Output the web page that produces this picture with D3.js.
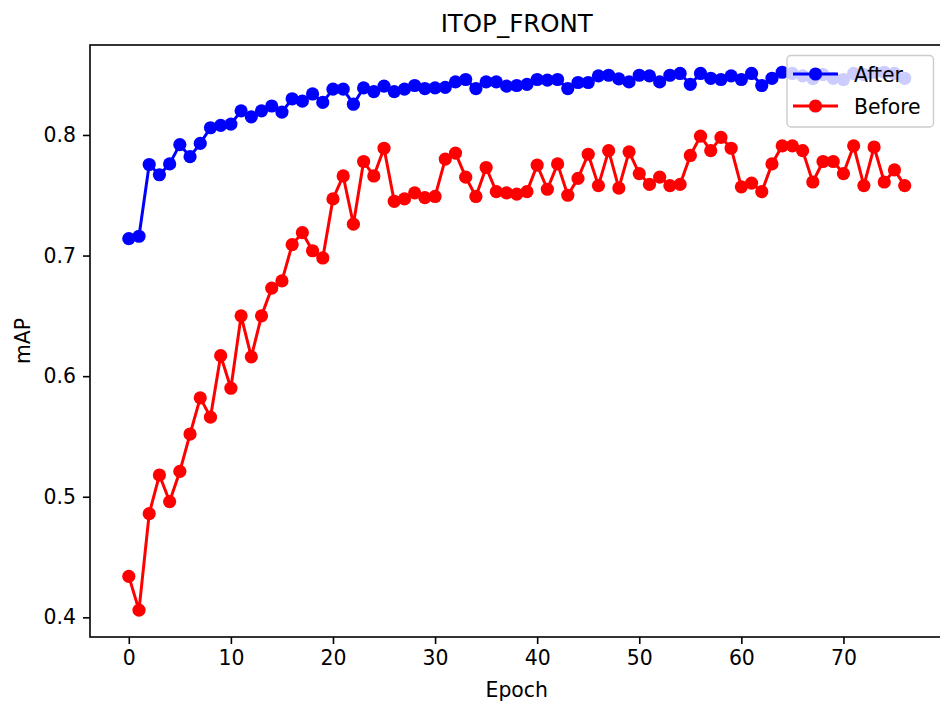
<!DOCTYPE html>
<html>
<head>
<meta charset="utf-8">
<script src="https://cdn.jsdelivr.net/npm/d3@7"></script>
<style>
  html, body { margin: 0; padding: 0; background: #fff; }
  svg { display: block; font-family: "DejaVu Sans", sans-serif; }
</style>
</head>
<body>
<svg id="chart" width="940" height="707"></svg>
<script>
// mAP per training epoch, after and before the change
const afterMAP = [
  0.714, 0.716, 0.7755, 0.767, 0.776, 0.792, 0.782, 0.793, 0.806, 0.808,
  0.809, 0.820, 0.815, 0.820, 0.824, 0.819, 0.830, 0.828, 0.834, 0.827,
  0.838, 0.838, 0.8255, 0.839, 0.836, 0.8405, 0.836, 0.838, 0.841, 0.8385,
  0.839, 0.8395, 0.844, 0.846, 0.8385, 0.844, 0.844, 0.8405, 0.841, 0.842,
  0.846, 0.8455, 0.846, 0.8385, 0.8435, 0.8435, 0.849, 0.8495, 0.8465, 0.844,
  0.8495, 0.849, 0.844, 0.8495, 0.851, 0.842, 0.851, 0.847, 0.846, 0.849,
  0.846, 0.851, 0.841, 0.847, 0.852, 0.851, 0.849, 0.8467, 0.850, 0.847,
  0.846, 0.851, 0.850, 0.852, 0.852, 0.851, 0.847
];
const beforeMAP = [
  0.434, 0.406, 0.486, 0.518, 0.496, 0.521, 0.552, 0.582, 0.566, 0.617,
  0.590, 0.650, 0.616, 0.650, 0.673, 0.679, 0.709, 0.719, 0.704, 0.698,
  0.747, 0.766, 0.726, 0.778, 0.766, 0.789, 0.745, 0.747, 0.752, 0.748,
  0.749, 0.780, 0.785, 0.765, 0.749, 0.773, 0.753, 0.752, 0.751, 0.753,
  0.775, 0.755, 0.776, 0.750, 0.764, 0.784, 0.758, 0.787, 0.756, 0.786,
  0.768, 0.759, 0.765, 0.758, 0.759, 0.783, 0.799, 0.787, 0.798, 0.789,
  0.757, 0.760, 0.753, 0.776, 0.791, 0.791, 0.787, 0.761, 0.778, 0.778,
  0.768, 0.791, 0.758, 0.790, 0.761, 0.771, 0.758
];
const seriesNames = ["After", "Before"];
const seriesColors = ["#0000ff", "#ff0000"];
const xTicks = [0, 10, 20, 30, 40, 50, 60, 70];
const yTicks = [0.4, 0.5, 0.6, 0.7, 0.8];
const titleText = "ITOP_FRONT";
const xLabel = "Epoch";
const yLabel = "mAP";

const svg = d3.select("#chart");
const plot = { left: 90, right: 943.5, top: 45, bottom: 637 };

// axis limits padded 5% around the data, as in the usual plotting defaults
const nEpochs = afterMAP.length;
const xPad = (nEpochs - 1) * 0.05;
const allVals = afterMAP.concat(beforeMAP);
const yMin = d3.min(allVals), yMax = d3.max(allVals);
const yPad = (yMax - yMin) * 0.05;

const x = d3.scaleLinear().domain([-xPad, nEpochs - 1 + xPad]).range([plot.left, plot.right]);
const y = d3.scaleLinear().domain([yMin - yPad, yMax + yPad + 0.0003]).range([plot.bottom, plot.top]);

const tickFont = 20.4;

// axes frame
svg.append("rect")
  .attr("x", plot.left).attr("y", plot.top)
  .attr("width", plot.right - plot.left).attr("height", plot.bottom - plot.top)
  .attr("fill", "none").attr("stroke", "#000").attr("stroke-width", 1.6);

// x axis
const xAxis = svg.append("g")
  .attr("transform", `translate(0,${plot.bottom})`)
  .call(d3.axisBottom(x).tickValues(xTicks).tickSize(7).tickPadding(7).tickFormat(d3.format("d")));
xAxis.select(".domain").remove();
xAxis.selectAll("line").attr("stroke", "#000").attr("stroke-width", 1.6);
xAxis.selectAll("text").attr("font-size", tickFont).attr("fill", "#000")
  .attr("font-family", "DejaVu Sans");

// y axis
const yAxis = svg.append("g")
  .attr("transform", `translate(${plot.left},0)`)
  .call(d3.axisLeft(y).tickValues(yTicks).tickSize(7).tickPadding(7).tickFormat(d3.format(".1f")));
yAxis.select(".domain").remove();
yAxis.selectAll("line").attr("stroke", "#000").attr("stroke-width", 1.6);
yAxis.selectAll("text").attr("font-size", tickFont).attr("fill", "#000")
  .attr("font-family", "DejaVu Sans");

// series lines and markers
const series = [afterMAP, beforeMAP];
const line = d3.line().x((d, i) => x(i)).y(d => y(d));
const lineW = 3, markerR = 6.6;

series.forEach((vals, si) => {
  const g = svg.append("g");
  g.append("path")
    .datum(vals)
    .attr("d", line)
    .attr("fill", "none")
    .attr("stroke", seriesColors[si])
    .attr("stroke-width", lineW)
    .attr("stroke-linejoin", "round");
  g.selectAll("circle")
    .data(vals)
    .join("circle")
    .attr("cx", (d, i) => x(i))
    .attr("cy", d => y(d))
    .attr("r", markerR)
    .attr("fill", seriesColors[si]);
});

// title and axis labels
svg.append("text")
  .attr("x", (plot.left + plot.right) / 2).attr("y", 32)
  .attr("text-anchor", "middle").attr("font-size", 24.5).attr("fill", "#000")
  .text(titleText);

svg.append("text")
  .attr("x", (plot.left + plot.right) / 2).attr("y", 697)
  .attr("text-anchor", "middle").attr("font-size", tickFont).attr("fill", "#000")
  .text(xLabel);

svg.append("text")
  .attr("transform", `translate(30,${(plot.top + plot.bottom) / 2}) rotate(-90)`)
  .attr("text-anchor", "middle").attr("font-size", tickFont).attr("fill", "#000")
  .text(yLabel);

// legend, upper right
const legend = { x: 787, y: 55.5, w: 146.5, h: 71.5 };
const lg = svg.append("g");
lg.append("rect")
  .attr("x", legend.x).attr("y", legend.y)
  .attr("width", legend.w).attr("height", legend.h)
  .attr("rx", 4).attr("ry", 4)
  .attr("fill", "#fff").attr("fill-opacity", 0.8)
  .attr("stroke", "#cccccc").attr("stroke-width", 1.4);

seriesNames.forEach((name, i) => {
  const cy = legend.y + 18.5 + i * 32;
  lg.append("line")
    .attr("x1", legend.x + 6).attr("x2", legend.x + 51)
    .attr("y1", cy).attr("y2", cy)
    .attr("stroke", seriesColors[i]).attr("stroke-width", lineW);
  lg.append("circle")
    .attr("cx", legend.x + 28.5).attr("cy", cy).attr("r", markerR)
    .attr("fill", seriesColors[i]);
  lg.append("text")
    .attr("x", legend.x + 67).attr("y", cy + 7.5)
    .attr("font-size", tickFont).attr("fill", "#000")
    .text(name);
});
</script>
</body>
</html>
